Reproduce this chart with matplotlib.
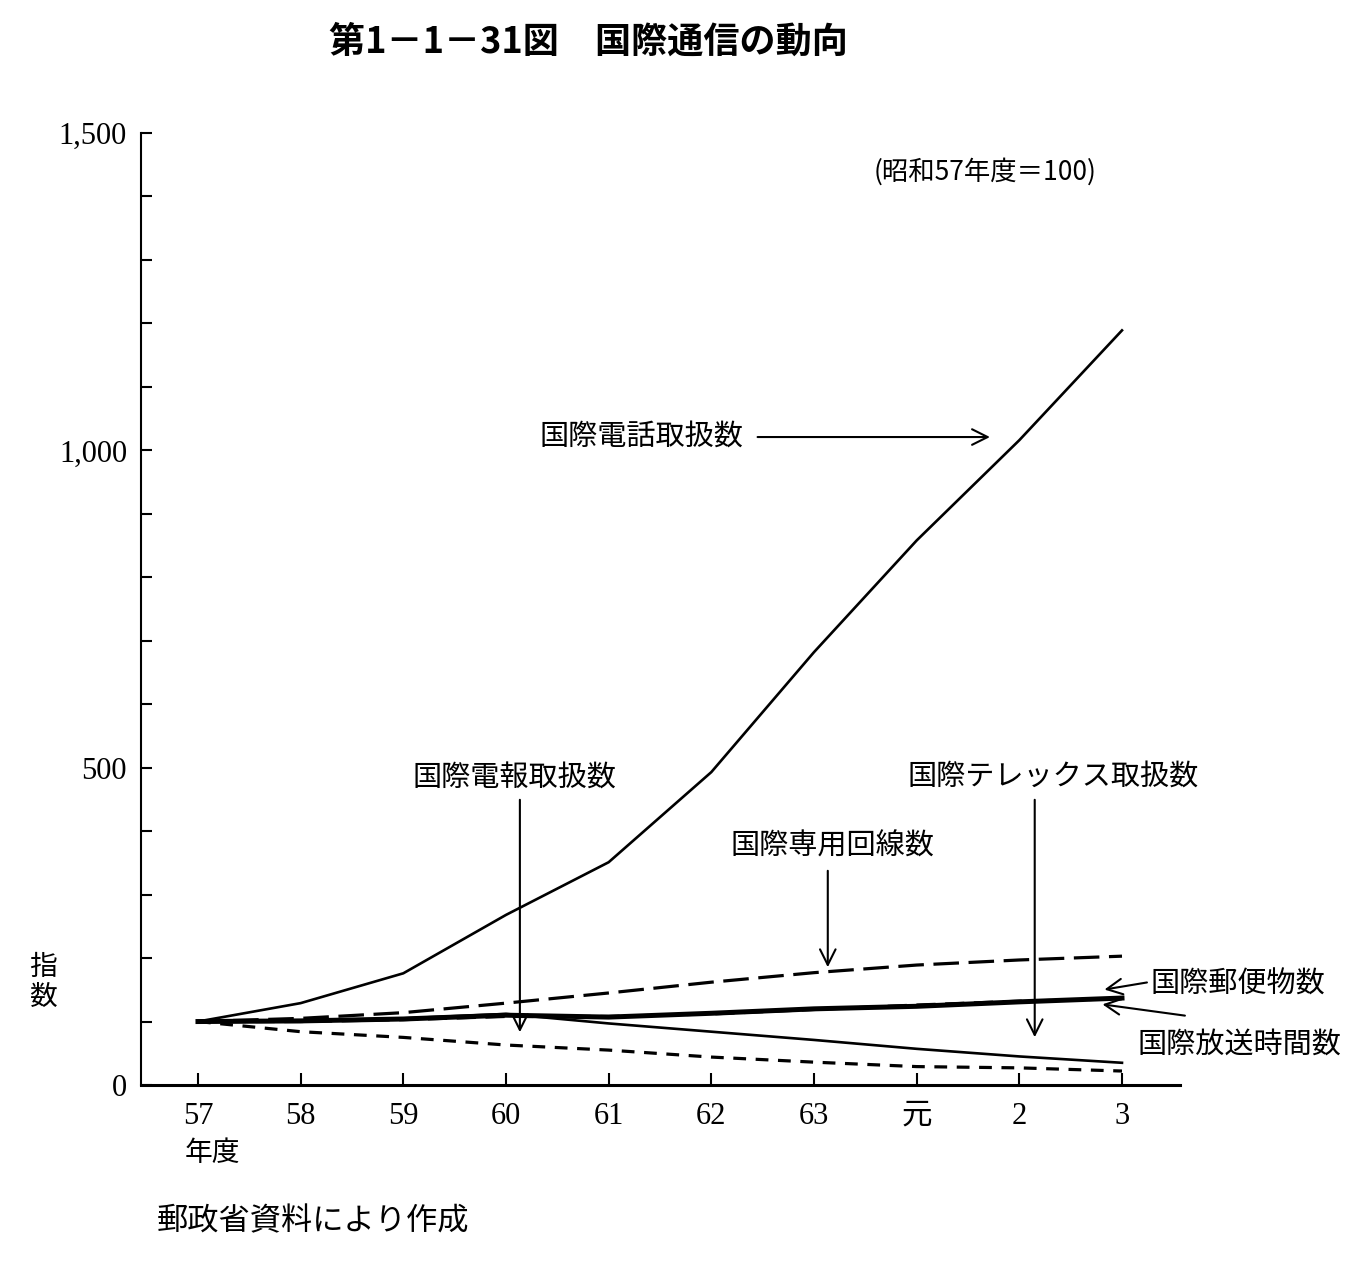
import numpy as np
import matplotlib.pyplot as plt
from matplotlib.ticker import MultipleLocator, FixedLocator

plt.rcParams['font.family'] = ['Noto Sans CJK JP', 'DejaVu Sans']

# 年度 (昭和57年度 = 100)
years = ['57', '58', '59', '60', '61', '62', '63', '元', '2', '3']
telephone = [100, 129, 176, 268, 351, 493, 682, 858, 1016, 1189]
leased = [100, 105, 114, 129, 145, 162, 177, 189, 197, 203]
mail = [100, 101, 104, 110, 107, 113, 120, 124, 131, 137]
broadcast = [100, 100, 103, 108, 108, 112, 119, 126, 132, 136]
telex = [100, 101, 105, 112, 97, 84, 71, 57, 45, 35]
telegram = [100, 84, 75, 63, 55, 44, 36, 29, 27, 22]

W, H = 1365, 1265
fig = plt.figure(figsize=(W / 100, H / 100), dpi=100)
ax = fig.add_axes([141 / W, 1 - 1085 / H, (1180 - 141) / W, (1085 - 133) / H])

x = np.arange(len(years))
ax.plot(x, telephone, color='black', lw=1.9)
ax.plot(x, leased, color='black', lw=2.3, linestyle=(0, (8, 3)))
ax.plot(x, broadcast, color='black', lw=2.3, linestyle=(0, (6, 3)))
ax.plot(x, mail, color='black', lw=3.6)
ax.plot(x, telex, color='black', lw=1.9)
ax.plot(x, telegram, color='black', lw=2.3, linestyle=(0, (4, 3)))

ax.set_xlim(-0.555, 9.565)
ax.set_ylim(0, 1500)

for s in ['top', 'right']:
    ax.spines[s].set_visible(False)
ax.spines['left'].set_linewidth(1.5)
ax.spines['bottom'].set_linewidth(2.2)

ax.yaxis.set_major_locator(FixedLocator([0, 500, 1000, 1500]))
ax.yaxis.set_minor_locator(MultipleLocator(100))
ax.set_yticklabels(['0', '500', '1,000', '1,500'], family='Liberation Serif', fontsize=22)
ax.set_xticks(x)
ax.set_xticklabels(years, family=['Liberation Serif', 'Noto Sans CJK JP'], fontsize=22)
ax.tick_params(axis='y', which='both', direction='in', length=8, width=1.5, pad=10)
ax.tick_params(axis='x', direction='in', length=9, width=1.5, pad=12)


def px(xp, yp):
    # pixel position on the page -> data coordinates
    return (xp - 198) / 102.7, (1085 - yp) / 0.6347


lab = dict(fontsize=21, ha='center', va='center')
arrow = dict(arrowstyle='->', lw=1.5, color='black', mutation_scale=28)

ax.text(*px(642, 437), '国際電話取扱数', **lab)
ax.annotate('', xy=px(993, 437), xytext=px(755, 437), arrowprops=arrow)

ax.text(*px(515, 779), '国際電報取扱数', **lab)
ax.annotate('', xy=px(520, 1035), xytext=px(520, 797), arrowprops=arrow)

ax.text(*px(833, 847), '国際専用回線数', **lab)
ax.annotate('', xy=px(828, 970), xytext=px(828, 868), arrowprops=arrow)

ax.text(*px(1053, 777), '国際テレックス取扱数', **lab)
ax.annotate('', xy=px(1035, 1040), xytext=px(1035, 797), arrowprops=arrow)

ax.text(*px(1238, 985), '国際郵便物数', clip_on=False, **lab)
ax.annotate('', xy=px(1102, 990), xytext=px(1150, 982), arrowprops=arrow,
            annotation_clip=False)

ax.text(*px(1240, 1045), '国際放送時間数', clip_on=False, **lab)
ax.annotate('', xy=px(1100, 1004), xytext=px(1188, 1016), arrowprops=arrow,
            annotation_clip=False)

ax.text(*px(985, 172), '(昭和57年度＝100)', fontsize=19, ha='center', va='center')

fig.text(588 / W, 1 - 42 / H, '第1－1－31図　国際通信の動向', fontsize=26,
         fontweight='bold', ha='center', va='center')
fig.text(43 / W, 1 - 982 / H, '指\n数', fontsize=20, ha='center', va='center',
         linespacing=1.0)
fig.text(212 / W, 1 - 1153 / H, '年度', fontsize=20, ha='center', va='center')
fig.text(313 / W, 1 - 1221 / H, '郵政省資料により作成', fontsize=22.5, ha='center',
         va='center')

fig.savefig('out.png', dpi=100, facecolor='white')
